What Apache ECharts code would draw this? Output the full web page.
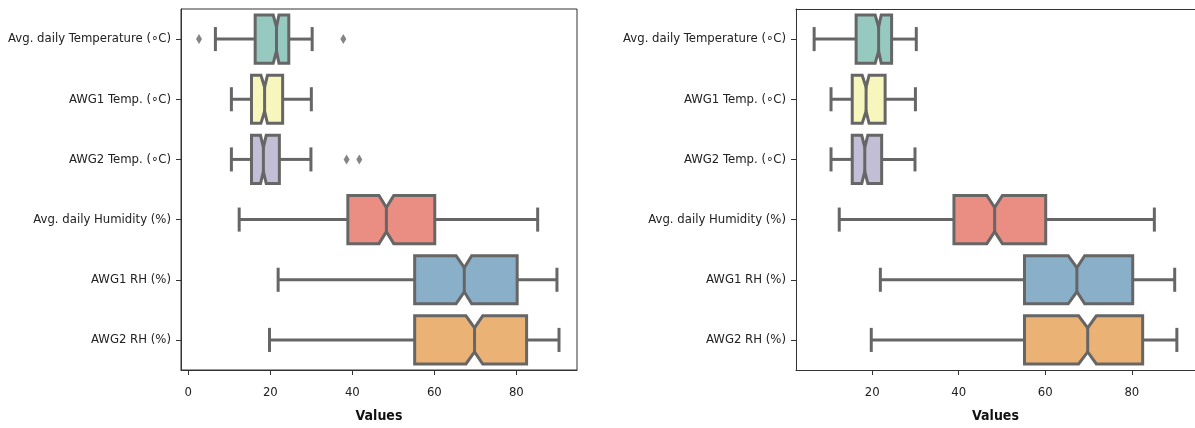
<!DOCTYPE html>
<html><head><meta charset="utf-8">
<script src="https://cdn.jsdelivr.net/npm/echarts@6/dist/echarts.min.js"></script>
<style>html,body{margin:0;padding:0;background:#fff}#c{width:1195px;height:428px}</style>
</head><body><div id="c"></div><script>
const categories = ['Avg. daily Temperature (∘C)', 'AWG1 Temp. (∘C)', 'AWG2 Temp. (∘C)', 'Avg. daily Humidity (%)', 'AWG1 RH (%)', 'AWG2 RH (%)'];
const whiskerLow  = [6.6, 10.5, 10.5, 12.4, 21.9, 19.8];
const q1          = [16.3, 15.4, 15.4, 38.9, 55.2, 55.2];
const notchLow    = [20.7, 17.7, 17.6, 46.5, 65.3, 67.7];
const median      = [21.5, 18.6, 18.3, 48.3, 67.3, 69.8];
const notchHigh   = [22.1, 19.3, 19.0, 50.1, 69.1, 71.8];
const q3          = [24.5, 23.0, 22.2, 60.1, 80.2, 82.5];
const whiskerHigh = [30.2, 30.0, 29.9, 85.2, 89.9, 90.4];
const outliers    = [[2.6, 37.8], [], [38.6, 41.7], [], [], []];
const xTicksLeft  = [0, 20, 40, 60, 80];
const xTicksRight = [20, 40, 60, 80];
const xLabel = 'Values';
const boxColors = ['#96cac1', '#f6f6bd', '#c1bed6', '#ea8e83', '#8aafc9', '#eab375'];

const LINE = '#666666';
const SPINE = '#333333';
const FONT = '"DejaVu Sans Condensed", "DejaVu Sans", sans-serif';

function range(withFliers) {
  let vals = whiskerLow.concat(whiskerHigh);
  if (withFliers) outliers.forEach(o => { vals = vals.concat(o); });
  const lo = Math.min(...vals), hi = Math.max(...vals), pad = (hi - lo) * 0.05;
  return [lo - pad, hi + pad];
}
const rL = range(true), rR = range(false);

const boxData = categories.map((c, i) => [i, whiskerLow[i], q1[i], notchLow[i], median[i], notchHigh[i], q3[i], whiskerHigh[i]]);
const flierData = [];
outliers.forEach((arr, i) => arr.forEach(v => flierData.push([v, i])));

function renderBox(params, api) {
  const c = api.value(0);
  const band = api.size([0, 1])[1];
  const hw = band * 0.8 / 2;
  const cw = hw / 2;
  const y = api.coord([0, c])[1];
  const X = k => api.coord([api.value(k), c])[0];
  const wl = X(1), a = X(2), nl = X(3), m = X(4), nh = X(5), b = X(6), wh = X(7);
  const ls = { stroke: LINE, lineWidth: 3, lineCap: 'butt' };
  return {
    type: 'group',
    children: [
      { type: 'polygon', shape: { points: [[a, y - hw], [nl, y - hw], [m, y - cw], [nh, y - hw], [b, y - hw], [b, y + hw], [nh, y + hw], [m, y + cw], [nl, y + hw], [a, y + hw]] },
        style: { fill: boxColors[c], stroke: LINE, lineWidth: 3, lineJoin: 'miter' } },
      { type: 'line', shape: { x1: wl, y1: y, x2: a, y2: y }, style: ls },
      { type: 'line', shape: { x1: b, y1: y, x2: wh, y2: y }, style: ls },
      { type: 'line', shape: { x1: wl, y1: y - cw, x2: wl, y2: y + cw }, style: ls },
      { type: 'line', shape: { x1: wh, y1: y - cw, x2: wh, y2: y + cw }, style: ls },
      { type: 'line', shape: { x1: m, y1: y - cw, x2: m, y2: y + cw }, style: ls }
    ]
  };
}

function xAxis(idx, r, ticks) {
  return {
    type: 'value', gridIndex: idx, min: r[0], max: r[1], position: 'bottom',
    name: xLabel, nameLocation: 'middle', nameGap: 39,
    nameTextStyle: { fontFamily: FONT, fontSize: 14, fontWeight: 'bold', color: '#111' },
    axisLine: { show: true, onZero: false, lineStyle: { color: SPINE, width: 1 } },
    axisTick: { show: true, length: 5, customValues: ticks, lineStyle: { color: SPINE } },
    axisLabel: { customValues: ticks, margin: 16, fontFamily: FONT, fontSize: 13, color: '#222' },
    splitLine: { show: false }
  };
}
function topSpine(idx, r) {
  return {
    type: 'value', gridIndex: idx, min: r[0], max: r[1], position: 'top',
    axisLine: { show: true, onZero: false, lineStyle: { color: SPINE, width: 1 } },
    axisTick: { show: false }, axisLabel: { show: false }, splitLine: { show: false }
  };
}
function yAxis(idx) {
  return {
    type: 'category', gridIndex: idx, data: categories, inverse: true,
    axisLine: { show: true, onZero: false, lineStyle: { color: SPINE, width: 1 } },
    axisTick: { show: true, length: 5, alignWithLabel: true, lineStyle: { color: SPINE } },
    axisLabel: { margin: 10, fontFamily: FONT, fontSize: 13, color: '#222' },
    splitLine: { show: false }
  };
}

const chart = echarts.init(document.getElementById('c'), null, { renderer: 'canvas' });
chart.setOption({
  animation: false,
  backgroundColor: '#fff',
  grid: [
    { left: 181, top: 9, width: 396, height: 366, show: true, borderColor: SPINE, borderWidth: 1, containLabel: false },
    { left: 796, top: 9, width: 401, height: 361, show: false, containLabel: false }
  ],
  xAxis: [xAxis(0, rL, xTicksLeft), xAxis(1, rR, xTicksRight), topSpine(1, rR)],
  yAxis: [yAxis(0), yAxis(1)],
  series: [
    { type: 'custom', xAxisIndex: 0, yAxisIndex: 0, renderItem: renderBox, data: boxData,
      encode: { x: [1, 2, 3, 4, 5, 6, 7], y: 0 }, z: 2 },
    { type: 'scatter', xAxisIndex: 0, yAxisIndex: 0, data: flierData, symbol: 'diamond',
      symbolSize: [6, 10], itemStyle: { color: LINE }, z: 3 },
    { type: 'custom', xAxisIndex: 1, yAxisIndex: 1, renderItem: renderBox, data: boxData,
      encode: { x: [1, 2, 3, 4, 5, 6, 7], y: 0 }, z: 2 }
  ]
});
</script></body></html>
